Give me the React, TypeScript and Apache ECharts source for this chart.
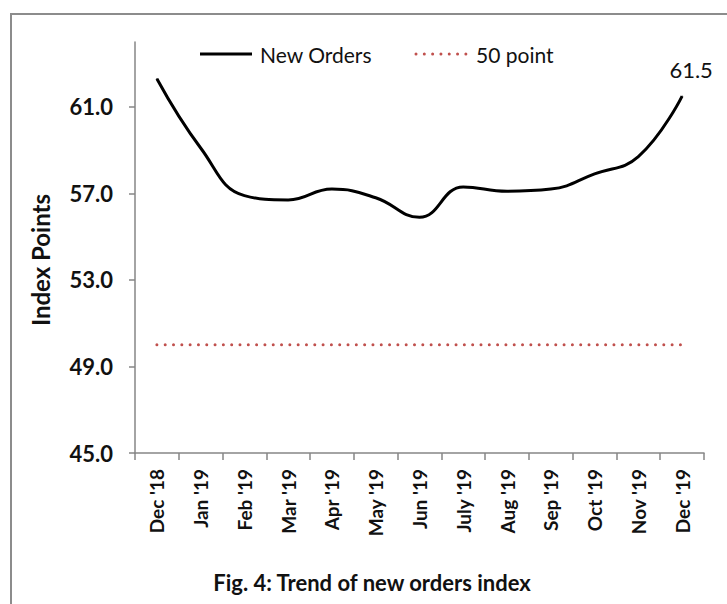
import React, { useEffect, useRef } from "react";
import * as echarts from "echarts";

const categories = ["Dec '18", "Jan '19", "Feb '19", "Mar '19", "Apr '19", "May '19", "Jun '19", "July '19", "Aug '19", "Sep '19", "Oct '19", "Nov '19", "Dec '19"];
const newOrders = [62.3, 59.1, 56.9, 56.7, 57.2, 56.8, 55.9, 57.3, 57.1, 57.2, 57.9, 58.7, 61.5];
const fiftyPoint = [50, 50, 50, 50, 50, 50, 50, 50, 50, 50, 50, 50, 50];
const yTicks = [45, 49, 53, 57, 61];
const seriesNames = ["New Orders", "50 point"];
const yTitle = "Index Points";
const figTitle = "Fig. 4: Trend of new orders index";

const FONT = "Lato, 'Noto Sans', sans-serif";
const RED = "#c0504d";
const DOTS = [0.01, 8.3];

export default function App() {
  const ref = useRef<HTMLDivElement>(null);
  useEffect(() => {
    if (!ref.current) return;
    const chart = echarts.init(ref.current, null, { renderer: "svg" });
    const last = newOrders.length - 1;
    chart.setOption({
      animation: false,
      backgroundColor: "#ffffff",
      textStyle: { fontFamily: FONT },
      grid: { left: 135, right: 23, top: 42, bottom: 151, containLabel: false },
      xAxis: {
        type: "category",
        data: categories,
        boundaryGap: true,
        axisLine: { lineStyle: { color: "#868686", width: 1.5 } },
        axisTick: { show: true, length: 7, interval: 0, lineStyle: { color: "#868686", width: 1.5 } },
        axisLabel: {
          interval: 0,
          rotate: 90,
          margin: 16,
          fontFamily: FONT,
          fontWeight: "bold",
          fontSize: 19,
          color: "#111",
        },
        splitLine: { show: false },
      },
      yAxis: {
        type: "value",
        min: 45,
        max: 64,
        interval: 4,
        axisLine: { show: true, lineStyle: { color: "#868686", width: 1.5 } },
        axisTick: { show: true, length: 6, customValues: yTicks, lineStyle: { color: "#868686", width: 1.5 } },
        axisLabel: {
          customValues: yTicks,
          margin: 22,
          fontFamily: FONT,
          fontWeight: "bold",
          fontSize: 22,
          color: "#111",
          formatter: (v: number) => v.toFixed(1),
        },
        splitLine: { show: false },
      },
      series: [
        {
          name: seriesNames[0],
          type: "line",
          data: newOrders.map((v, i) =>
            i === last
              ? {
                  value: v,
                  label: {
                    show: true,
                    position: "top",
                    distance: 15,
                    offset: [9, 0],
                    fontFamily: FONT,
                    fontSize: 22,
                    color: "#111",
                    formatter: (p: any) => Number(p.value).toFixed(1),
                  },
                }
              : v
          ),
          smooth: 0.45,
          symbol: "circle",
          symbolSize: 1,
          showSymbol: true,
          lineStyle: { color: "#000", width: 3 },
          itemStyle: { color: "#000" },
          z: 3,
        },
        {
          name: seriesNames[1],
          type: "line",
          data: fiftyPoint,
          symbol: "none",
          lineStyle: { color: RED, width: 3, type: DOTS, cap: "round" },
          itemStyle: { color: RED },
          z: 2,
        },
      ],
      graphic: [
        {
          type: "rect",
          shape: { x: 11, y: 14, width: 740, height: 620 },
          style: { fill: "none", stroke: "#8c8c8c", lineWidth: 2 },
          silent: true,
        },
        {
          type: "line",
          shape: { x1: 200, y1: 54, x2: 252, y2: 54 },
          style: { stroke: "#000", lineWidth: 3 },
        },
        {
          type: "text",
          x: 260,
          y: 54,
          style: { text: seriesNames[0], fontFamily: FONT, fontSize: 21, fill: "#111", align: "left", verticalAlign: "middle" },
        },
        {
          type: "line",
          shape: { x1: 416, y1: 54, x2: 468, y2: 54 },
          style: { stroke: RED, lineWidth: 3, lineDash: DOTS, lineCap: "round" },
        },
        {
          type: "text",
          x: 476,
          y: 54,
          style: { text: seriesNames[1], fontFamily: FONT, fontSize: 21, fill: "#111", align: "left", verticalAlign: "middle" },
        },
        {
          type: "text",
          x: 40,
          y: 260,
          rotation: Math.PI / 2,
          style: {
            text: yTitle,
            fontFamily: FONT,
            fontWeight: "bold",
            fontSize: 24,
            fill: "#111",
            align: "center",
            verticalAlign: "middle",
          },
        },
        {
          type: "text",
          x: 372,
          y: 582,
          style: {
            text: figTitle,
            fontFamily: FONT,
            fontWeight: "bold",
            fontSize: 22,
            fill: "#111",
            align: "center",
            verticalAlign: "middle",
          },
        },
      ],
    });
    return () => chart.dispose();
  }, []);
  return <div ref={ref} style={{ position: "fixed", left: 0, top: 0, width: 727, height: 604 }} />;
}
